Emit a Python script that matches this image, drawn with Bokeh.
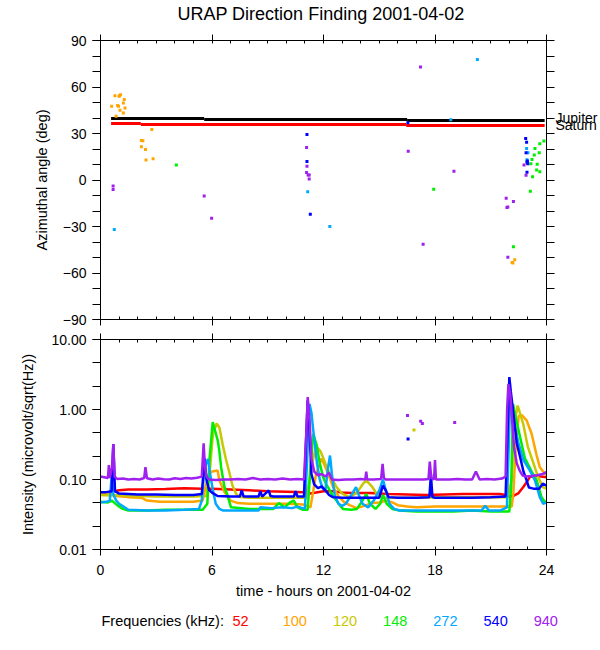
from bokeh.plotting import figure
from bokeh.models import (LinearAxis, LogAxis, FixedTicker, Range1d,
                          PrintfTickFormatter)
from bokeh.core.properties import value
from bokeh.layouts import column, row
from bokeh.embed import file_html
from bokeh.resources import INLINE

FONT = "Liberation Sans"

# ---------------- data ----------------
title = "URAP Direction Finding  2001-04-02"
freqs = ["52", "100", "120", "148", "272", "540", "940"]
colors = ["#ff0000", "#ffa500", "#c8c800", "#00ee00", "#00a8ff", "#0000ff", "#a020f0"]
planet_names = ["Jupiter", "Saturn"]
planet_label_deg = [39.9, 35.4]

# planets (azimuth, deg) - step segments
jup_start = [0.57, 5.58, 16.5]
jup_end = [5.58, 16.5, 23.9]
jup_deg = [39.6, 39.0, 38.4]
sat_start = [0.57, 2.17, 16.45]
sat_end = [2.17, 16.45, 23.9]
sat_deg = [36.4, 35.8, 35.1]

# direction-finding points (hour, azimuth)
az100_t = [0.60, 0.78, 1.0, 1.02, 1.08, 1.28, 1.23, 0.92, 0.97, 1.32, 1.05, 1.23, 0.84,
           2.76, 2.2, 2.28, 2.2, 2.42, 2.45, 2.83, 22.29, 22.19, 22.15]
az100_v = [47.6, 54.4, 54.0, 54.4, 55.0, 51.9, 49.7, 48.0, 47.6, 46.5, 45.0, 43.3, 41.1,
           32.6, 25.5, 25.3, 21.4, 19.7, 12.9, 13.7, -51.4, -53.6, -53.2]
az148_t = [4.08, 17.93, 22.22, 23.86, 23.64, 23.38, 23.61, 23.34, 23.22, 23.16, 23.5, 23.47,
           23.64, 23.25, 23.13]
az148_v = [9.6, -6.0, -43.1, 25.1, 23.4, 20.4, 17.6, 16.1, 13.3, 10.5, 10.2, 6.4,
           5.3, 2.1, -7.3]
az272_t = [0.74, 11.15, 12.34, 18.85, 20.28, 22.93, 23.0, 22.95, 22.97]
az272_v = [-31.9, -7.5, -30.0, 38.8, 77.8, 20.4, 17.6, 13.0, 12.0]
az540_t = [11.11, 11.11, 11.29, 16.54, 22.88, 22.93, 22.9, 22.97, 22.99, 22.95, 22.95]
az540_v = [29.4, 12.0, -22.1, 37.0, 26.8, 24.4, 17.6, 12.2, 10.5, 11.5, 5.0]
az940_t = [0.68, 0.68, 5.58, 5.98, 11.09, 11.11, 11.09, 11.17, 11.23, 11.23, 16.56, 17.22,
           17.36, 19.02, 21.83, 22.22, 21.87, 21.92, 21.92, 22.79, 22.9]
az940_v = [-3.9, -6.1, -10.3, -24.6, 21.0, 8.8, 4.9, 3.2, 3.2, 0.6, 18.6, 72.9,
           -41.4, 5.6, -11.8, -13.9, -17.8, -17.4, -49.9, 9.6, 3.0]

# intensities (hour, microvolt/sqrt(Hz))
t52 = [0.0, 0.5, 1.0, 1.5, 2.5, 3.5, 4.5, 5.5, 6.0, 7.0, 8.0, 9.0, 10.0, 11.0, 11.3, 11.6,
       12.0, 12.5, 13.0, 13.5, 14.5, 15.5, 16.5, 17.5, 18.5, 19.5, 20.5, 21.5, 21.8, 22.0,
       22.2, 22.5, 22.75, 22.95, 23.1, 23.4, 23.7, 24.0]
v52 = [0.064, 0.066, 0.070, 0.072, 0.072, 0.073, 0.075, 0.074, 0.074, 0.072, 0.070, 0.068,
       0.067, 0.066, 0.063, 0.065, 0.068, 0.068, 0.065, 0.064, 0.064, 0.062, 0.061, 0.060,
       0.061, 0.062, 0.062, 0.062, 0.060, 0.057, 0.058, 0.064, 0.078, 0.093, 0.108, 0.113,
       0.110, 0.108]

t100 = [0.0, 0.5, 0.8, 1.5, 2.2, 2.5, 3.2, 4.0, 5.0, 5.5, 5.7, 5.85, 6.0, 6.3, 6.4, 6.67,
        7.0, 7.4, 8.0, 9.0, 10.0, 10.9, 11.3, 11.6, 11.9, 12.2, 12.5, 12.8, 13.1, 13.4, 13.8,
        14.2, 14.6, 15.0, 15.4, 15.7, 16.0, 16.5, 17.0, 18.0, 19.0, 20.0, 21.0, 22.13, 22.22,
        22.35, 22.5, 22.67, 22.93, 23.2, 23.47, 23.64, 23.82, 24.0]
v100 = [0.062, 0.062, 0.058, 0.056, 0.055, 0.050, 0.048, 0.048, 0.048, 0.050, 0.09, 0.12,
        0.13, 0.134, 0.097, 0.066, 0.050, 0.046, 0.045, 0.045, 0.045, 0.044, 0.040, 0.12,
        0.2, 0.13, 0.08, 0.058, 0.048, 0.043, 0.039, 0.042, 0.046, 0.047, 0.050, 0.047,
        0.043, 0.041, 0.040, 0.041, 0.041, 0.041, 0.041, 0.041, 0.066, 0.3, 0.8, 0.83, 0.7,
        0.45, 0.22, 0.15, 0.13, 0.115]

t120 = [0.0, 0.5, 1.0, 2.0, 3.0, 4.0, 5.0, 5.7, 5.9, 6.05, 6.25, 6.4, 6.58, 6.76, 6.93,
        7.1, 7.3, 7.5, 8.0, 9.0, 10.0, 11.1, 11.35, 11.6, 11.85, 12.1, 12.4, 12.7, 13.0,
        13.4, 13.8, 14.1, 14.3, 14.6, 14.9, 15.2, 16.0, 17.0, 18.0, 19.0, 20.0, 21.0, 21.9,
        22.13, 22.3, 22.45, 22.75, 23.0, 23.3, 23.55, 23.82, 24.0]
v120 = [0.060, 0.059, 0.060, 0.058, 0.057, 0.057, 0.057, 0.058, 0.15, 0.45, 0.63, 0.55,
        0.31, 0.19, 0.127, 0.082, 0.062, 0.056, 0.055, 0.055, 0.055, 0.055, 0.15, 0.3, 0.25,
        0.17, 0.11, 0.078, 0.063, 0.056, 0.065, 0.085, 0.097, 0.08, 0.06, 0.055, 0.055,
        0.055, 0.056, 0.056, 0.056, 0.056, 0.056, 0.10, 0.7, 1.14, 0.62, 0.29, 0.17, 0.108,
        0.077, 0.074]

t148 = [0.0, 0.4, 0.6, 0.9, 1.2, 1.5, 2.5, 3.5, 4.5, 5.5, 5.75, 5.87, 6.04, 6.31, 6.4, 6.49,
        6.67, 6.84, 7.02, 8.0, 9.3, 9.6, 9.9, 10.2, 10.4, 10.6, 10.9, 11.15, 11.3, 11.45,
        11.63, 11.8, 11.98, 12.15, 12.34, 12.5, 12.7, 12.9, 13.05, 13.5, 13.8, 14.1, 14.3,
        14.5, 14.8, 15.05, 15.2, 15.4, 15.7, 16.1, 17.0, 18.0, 19.0, 20.0, 21.0, 22.0, 22.1,
        22.2, 22.3, 22.58, 22.84, 23.2, 23.47, 23.73, 23.9, 24.0]
v148 = [0.048, 0.047, 0.050, 0.043, 0.038, 0.036, 0.036, 0.037, 0.037, 0.037, 0.045, 0.2,
        0.66, 0.36, 0.25, 0.15, 0.078, 0.059, 0.040, 0.038, 0.038, 0.046, 0.040, 0.047,
        0.050, 0.040, 0.037, 0.037, 0.15, 0.45, 0.31, 0.17, 0.108, 0.085, 0.070, 0.058,
        0.050, 0.042, 0.038, 0.037, 0.038, 0.050, 0.062, 0.045, 0.038, 0.045, 0.060, 0.045,
        0.038, 0.036, 0.035, 0.035, 0.035, 0.036, 0.035, 0.035, 0.08, 1.2, 0.87, 0.4, 0.2,
        0.13, 0.097, 0.056, 0.048, 0.048]

t272 = [0.0, 0.3, 0.5, 0.6, 0.7, 0.85, 1.0, 1.3, 1.5, 2.5, 3.5, 4.5, 5.3, 5.45, 5.6, 5.78,
        5.9, 6.05, 6.2, 6.4, 6.6, 7.5, 8.5, 8.6, 9.2, 9.8, 10.3, 10.6, 11.0, 11.15, 11.25,
        11.35, 11.45, 11.55, 11.65, 11.8, 11.95, 12.1, 12.25, 12.35, 12.45, 12.6, 12.8, 13.0,
        13.2, 13.5, 13.75, 13.9, 14.1, 14.4, 14.7, 15.0, 15.2, 15.35, 15.55, 15.8, 16.1, 17.0,
        18.0, 19.0, 20.0, 20.5, 20.7, 20.9, 21.5, 21.87, 22.04, 22.22, 22.49, 22.76, 23.1,
        23.38, 23.64, 23.82, 24.0]
v272 = [0.047, 0.048, 0.050, 0.11, 0.06, 0.050, 0.045, 0.040, 0.037, 0.036, 0.036, 0.037,
        0.038, 0.05, 0.15, 0.197, 0.12, 0.07, 0.045, 0.038, 0.036, 0.036, 0.036, 0.040,
        0.039, 0.040, 0.039, 0.041, 0.038, 0.3, 1.2, 0.9, 0.5, 0.3, 0.17, 0.1, 0.075, 0.07,
        0.15, 0.22, 0.12, 0.06, 0.045, 0.042, 0.045, 0.06, 0.078, 0.06, 0.045, 0.04, 0.05,
        0.07, 0.1, 0.07, 0.045, 0.038, 0.036, 0.036, 0.036, 0.036, 0.036, 0.036, 0.042,
        0.036, 0.036, 0.04, 1.35, 0.7, 0.33, 0.19, 0.135, 0.097, 0.056, 0.045, 0.047]

t540 = [0.0, 0.3, 0.6, 0.69, 0.78, 1.0, 1.5, 2.0, 3.0, 4.0, 5.0, 5.45, 5.6, 5.7, 5.85, 6.0,
        6.3, 7.0, 7.5, 7.6, 7.7, 8.5, 8.6, 8.7, 9.05, 9.15, 9.3, 10.4, 10.5, 10.6, 10.95,
        11.05, 11.15, 11.25, 11.35, 11.5, 11.7, 11.9, 12.1, 12.3, 12.5, 13.0, 14.0, 15.0,
        15.2, 15.35, 15.5, 16.0, 17.0, 17.7, 17.78, 17.86, 18.0, 19.0, 20.0, 21.0, 21.8,
        21.92, 22.0, 22.08, 22.22, 22.4, 22.58, 22.76, 22.93, 23.05, 23.3, 23.6, 23.8, 24.0]
v540 = [0.066, 0.066, 0.068, 0.32, 0.068, 0.063, 0.062, 0.061, 0.061, 0.060, 0.060, 0.062,
        0.2, 0.1, 0.07, 0.065, 0.058, 0.057, 0.057, 0.07, 0.057, 0.057, 0.068, 0.057, 0.07,
        0.058, 0.057, 0.057, 0.068, 0.057, 0.057, 0.3, 1.35, 0.5, 0.12, 0.085, 0.075, 0.08,
        0.07, 0.06, 0.056, 0.055, 0.055, 0.055, 0.082, 0.07, 0.056, 0.055, 0.055, 0.056,
        0.12, 0.056, 0.055, 0.055, 0.055, 0.056, 0.057, 0.6, 2.9, 1.8, 0.87, 0.33, 0.21,
        0.13, 0.097, 0.077, 0.074, 0.074, 0.087, 0.082]

t940 = [0.0, 0.2, 0.4, 0.45, 0.5, 0.62, 0.69, 0.76, 0.9, 1.2, 1.5, 1.8, 2.1, 2.35, 2.42,
        2.5, 2.8, 3.1, 3.4, 3.7, 4.0, 4.3, 4.6, 4.9, 5.2, 5.45, 5.55, 5.62, 5.7, 5.85, 6.2,
        6.6, 7.0, 7.4, 7.8, 8.2, 8.6, 9.0, 9.4, 9.8, 10.2, 10.6, 10.95, 11.08, 11.15, 11.25,
        11.35, 11.5, 11.7, 11.9, 12.1, 12.3, 12.45, 12.8, 13.2, 13.6, 14.0, 14.25, 14.3,
        14.35, 14.7, 15.1, 15.18, 15.25, 15.35, 15.8, 16.2, 16.6, 17.0, 17.4, 17.65, 17.72,
        17.8, 17.95, 18.0, 18.05, 18.4, 18.8, 19.2, 19.6, 20.0, 20.2, 20.4, 20.8, 21.2, 21.6,
        21.8, 21.88, 21.95, 22.05, 22.15, 22.25, 22.4, 22.55, 22.7, 22.9, 23.2, 23.5, 23.8,
        24.0]
v940 = [0.11, 0.108, 0.105, 0.16, 0.105, 0.15, 0.32, 0.11, 0.102, 0.103, 0.10, 0.102, 0.10,
        0.105, 0.15, 0.104, 0.10, 0.103, 0.101, 0.10, 0.104, 0.102, 0.105, 0.103, 0.106,
        0.11, 0.33, 0.15, 0.11, 0.10, 0.098, 0.10, 0.10, 0.102, 0.10, 0.105, 0.10, 0.102,
        0.10, 0.103, 0.10, 0.102, 0.10, 0.5, 1.5, 0.7, 0.2, 0.13, 0.115, 0.12, 0.11, 0.125,
        0.10, 0.098, 0.10, 0.10, 0.102, 0.10, 0.13, 0.10, 0.10, 0.102, 0.167, 0.105, 0.10,
        0.10, 0.10, 0.10, 0.10, 0.10, 0.102, 0.18, 0.105, 0.10, 0.19, 0.10, 0.10, 0.10,
        0.102, 0.10, 0.10, 0.13, 0.10, 0.102, 0.10, 0.103, 0.11, 1.0, 2.3, 1.67, 0.7, 0.29,
        0.17, 0.135, 0.115, 0.11, 0.112, 0.115, 0.12, 0.127]

# isolated intensity points
iso940_t = [16.52, 17.23, 17.32, 19.06]
iso940_v = [0.82, 0.68, 0.63, 0.65]
iso120_t = [16.87]
iso120_v = [0.51]
iso540_t = [16.55]
iso540_v = [0.38]

x_major = [0, 6, 12, 18, 24]
x_minor = list(range(0, 25))
az_major = [-90, -60, -30, 0, 30, 60, 90]
az_minor = list(range(-90, 91, 10))
int_major = [0.01, 0.1, 1.0, 10.0]
int_minor = [10 ** (k / 3.0) for k in range(-6, 4)]

series_t = [t52, t100, t120, t148, t272, t540, t940]
series_v = [v52, v100, v120, v148, v272, v540, v940]
for a, b in zip(series_t, series_v):
    assert len(a) == len(b), (len(a), len(b))

# ---------------- layout constants (pixels) ----------------
W = 600
LEFT, RIGHT = 100, 50


def style_axis(ax, labels=True, tick_out=6, minor_in=0, minor_out=0):
    ax.axis_line_color = "black"
    ax.axis_line_width = 1
    ax.major_tick_line_color = "black"
    ax.minor_tick_line_color = "black"
    ax.major_tick_in = 0
    ax.major_tick_out = tick_out
    ax.minor_tick_in = minor_in
    ax.minor_tick_out = minor_out
    ax.major_label_text_font = FONT
    ax.major_label_text_font_size = "14px"
    ax.axis_label_text_font = FONT
    ax.axis_label_text_font_style = "normal"
    ax.axis_label_text_color = "black"
    ax.axis_label_text_font_size = "14.5px"
    if labels:
        ax.major_label_text_color = "black"
        ax.major_label_standoff = 6
    else:
        ax.major_label_text_color = None
        ax.major_label_standoff = 0


def base_fig(height, y_range, top, bottom, y_axis_type="linear"):
    p = figure(width=W, height=height, x_range=Range1d(0, 24), y_range=y_range,
               y_axis_type=y_axis_type, output_backend="svg", toolbar_location=None,
               x_axis_location=None, y_axis_location=None,
               min_border_left=LEFT, min_border_right=RIGHT,
               min_border_top=top, min_border_bottom=bottom)
    p.xgrid.visible = False
    p.ygrid.visible = False
    p.outline_line_color = "black"
    p.outline_line_width = 1
    p.background_fill_color = "white"
    p.border_fill_color = "white"
    return p


# ---------------- top panel ----------------
p1 = base_fig(329, Range1d(-90, 90), top=39, bottom=10)

for loc in ["below", "above"]:
    ax = LinearAxis(ticker=FixedTicker(ticks=x_major, minor_ticks=x_minor))
    style_axis(ax, labels=False, tick_out=6, minor_in=3)
    if loc == "above":
        # chart title carried by the top axis
        ax.axis_label = title
        ax.axis_label_text_font_size = "18px"
        ax.axis_label_standoff = 11
    p1.add_layout(ax, loc)

ax = LinearAxis(ticker=FixedTicker(ticks=az_major, minor_ticks=az_minor))
style_axis(ax, labels=True, tick_out=8, minor_out=8)
ax.axis_label = "Azimuthal angle (deg)"
ax.axis_label_standoff = 10
p1.add_layout(ax, "left")

# right axis: ticks every 10 deg, labels naming the planets
ax = LinearAxis(ticker=FixedTicker(ticks=planet_label_deg, minor_ticks=az_minor),
                major_label_overrides=dict(zip(planet_label_deg, planet_names)))
style_axis(ax, labels=True, tick_out=0, minor_out=8)
ax.major_label_standoff = 1
ax.major_label_orientation = "horizontal"
p1.add_layout(ax, "right")

p1.segment(x0=jup_start, y0=jup_deg, x1=jup_end, y1=jup_deg, line_color="black", line_width=3)
p1.segment(x0=sat_start, y0=sat_deg, x1=sat_end, y1=sat_deg, line_color="#ff0000", line_width=3)

az_sets = [(az100_t, az100_v, colors[1]), (az148_t, az148_v, colors[3]),
           (az272_t, az272_v, colors[4]), (az540_t, az540_v, colors[5]),
           (az940_t, az940_v, colors[6])]
for tt, vv, c in az_sets:
    p1.scatter(tt, vv, marker="square", size=3, fill_color=c, line_color=None)

# ---------------- bottom panel ----------------
p2 = base_fig(276, Range1d(0.01, 10), top=10, bottom=56, y_axis_type="log")
p2.x_range = p1.x_range

for loc in ["below", "above"]:
    ax = LinearAxis(ticker=FixedTicker(ticks=x_major, minor_ticks=x_minor))
    style_axis(ax, labels=(loc == "below"), tick_out=6, minor_in=3)
    if loc == "below":
        ax.major_label_standoff = 9
        ax.axis_label = "time - hours on 2001-04-02"
        ax.axis_label_standoff = 5
    p2.add_layout(ax, loc)
for loc in ["left", "right"]:
    ax = LogAxis(ticker=FixedTicker(ticks=int_major, minor_ticks=int_minor),
                 formatter=PrintfTickFormatter(format="%.2f"))
    style_axis(ax, labels=(loc == "left"), tick_out=8, minor_out=8)
    if loc == "left":
        ax.axis_label = "Intensity (microvolt/sqrt(Hz))"
        ax.axis_label_standoff = 12
    p2.add_layout(ax, loc)

for tt, vv, c in zip(series_t, series_v, colors):
    p2.line(tt, vv, line_color=c, line_width=2.5)

for tt, vv, c in [(iso940_t, iso940_v, colors[6]), (iso120_t, iso120_v, colors[2]),
                  (iso540_t, iso540_v, colors[5])]:
    p2.scatter(tt, vv, marker="square", size=3, fill_color=c, line_color=None)

# ---------------- frequency legend row ----------------
LEG_H = 35
p3 = figure(width=W, height=LEG_H, x_range=Range1d(0, W), y_range=Range1d(0, LEG_H),
            output_backend="svg", toolbar_location=None,
            x_axis_location=None, y_axis_location=None,
            min_border_left=0, min_border_right=0, min_border_top=0, min_border_bottom=0)
p3.xgrid.visible = False
p3.ygrid.visible = False
p3.outline_line_color = None
leg_head_x = 101
leg_first_x = 232
leg_step = 50.2
leg_y = 20
p3.text(x=[leg_head_x], y=[leg_y], text=["Frequencies (kHz):"], text_color="black",
        text_font=value(FONT), text_font_size=value("14.5px"),
        text_align="left", text_baseline="middle")
p3.text(x=[leg_first_x + leg_step * i for i in range(len(freqs))],
        y=[leg_y] * len(freqs), text=freqs, text_color=colors,
        text_font=value(FONT), text_font_size=value("14.5px"),
        text_align="left", text_baseline="middle")

layout = column(p1, p2, row(p3), spacing=0)
open("out.html", "w").write(file_html(layout, INLINE))
